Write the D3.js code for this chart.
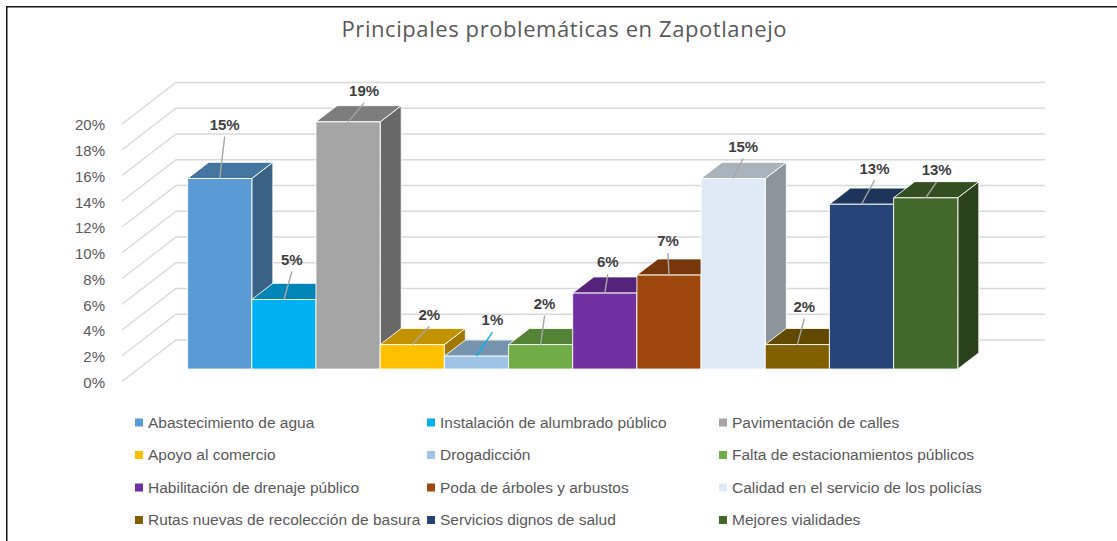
<!DOCTYPE html>
<html>
<head>
<meta charset="utf-8" />
<title>Principales problemáticas en Zapotlanejo</title>
<script src="https://d3js.org/d3.v7.min.js"></script>
<style>
html, body { margin: 0; padding: 0; background: #fff; }
svg { display: block; }
text { font-family: "Liberation Sans", Arial, sans-serif; fill: #595959; }
.tick text { font-size: 15px; }
.label { font-size: 15px; font-weight: bold; fill: #404040; }
.legend text { font-size: 15.5px; }
#title { font-family: "Open Sans", "Liberation Sans", sans-serif; font-size: 22px; }
</style>
</head>
<body>
<script>
// data (percent of answers)
const categories = [
    'Abastecimiento de agua',
    'Instalación de alumbrado público',
    'Pavimentación de calles',
    'Apoyo al comercio',
    'Drogadicción',
    'Falta de estacionamientos públicos',
    'Habilitación de drenaje público',
    'Poda de árboles y arbustos',
    'Calidad en el servicio de los policías',
    'Rutas nuevas de recolección de basura',
    'Servicios dignos de salud',
    'Mejores vialidades'
];
const values = [14.8, 5.4, 19.2, 1.9, 1.0, 1.9, 5.9, 7.3, 14.8, 1.9, 12.8, 13.3];
const yTicks = [0, 2, 4, 6, 8, 10, 12, 14, 16, 18, 20];

const colors = ['#5b9bd5', '#00b0f0', '#a5a5a5', '#ffc000', '#9dc3e6', '#70ad47',
                '#7030a0', '#9e480e', '#deebf7', '#806000', '#264478', '#43682b'];
// label placement (offset from bar top, like excel put them)
const labelNudge = [[5, -54], [8, -40], [16, -31], [17, -30], [16, -36], [4, -41],
                    [3, -31], [-1, -34], [10, -32], [7, -38], [13, -36], [11, -28]];
const oddLeader = 4; // this one's leader line is drawn cyan in the original

const w = 1117, h = 541;
const depthX = 54, depthY = 41.5;
const zFront = 0.3, zBack = 0.69;

const svg = d3.select('body').append('svg').attr('width', w).attr('height', h);

// frame (only top and left edge show)
svg.append('path').attr('d', 'M6.75,' + h + 'V6.75H' + w)
    .attr('fill', 'none').attr('stroke', '#111').attr('stroke-width', 1.5);

svg.append('text').attr('id', 'title')
    .attr('x', 564).attr('y', 37).attr('text-anchor', 'middle')
    .attr('textLength', 445).attr('lengthAdjust', 'spacing')
    .text('Principales problemáticas en Zapotlanejo');

const x = d3.scaleBand().domain(categories).range([122, 991]).paddingInner(0).paddingOuter(0.77);
const y = d3.scaleLinear().domain([0, 20]).range([381.5, 124]);

const px = (xv, z) => xv + z * depthX;
const py = (v, z) => y(v) - z * depthY;

// gridlines: diagonal on the side wall, then flat on the back wall
const x0 = x.range()[0], x1 = x.range()[1];
svg.append('g').attr('stroke', '#d9d9d9').attr('stroke-width', 1.3).attr('fill', 'none')
    .selectAll('path').data(yTicks).enter().append('path')
    .attr('d', d => 'M' + x0 + ',' + py(d, 0) + 'L' + px(x0, 1) + ',' + py(d, 1) + 'H' + px(x1, 1));

svg.append('g').attr('transform', 'translate(108,1)')
    .call(d3.axisLeft(y).tickValues(yTicks).tickSize(0).tickPadding(3).tickFormat(d => d + '%'))
    .call(g => g.select('.domain').remove());

// bars, left to right so each one hides the side of the previous
const ox = (zBack - zFront) * depthX, oy = (zBack - zFront) * depthY;
const bw = x.bandwidth();

svg.append('g').selectAll('g').data(categories).enter().append('g')
    .each(function(c, i) {
        const g = d3.select(this);
        const l = px(x(c), zFront), r = l + bw;
        const yb = py(0, zFront), yt = py(values[i], zFront);
        const base = d3.rgb(colors[i]);
        const shade = k => d3.rgb(base.r * k, base.g * k, base.b * k).formatHex();

        g.append('path')
            .attr('d', `M${r},${yt}L${r + ox},${yt - oy}L${r + ox},${yb - oy}L${r},${yb}Z`)
            .attr('fill', shade(0.63));
        g.append('path')
            .attr('d', `M${l},${yt}L${l + ox},${yt - oy}L${r + ox},${yt - oy}L${r},${yt}Z`)
            .attr('fill', shade(0.76));
        g.append('rect')
            .attr('x', l).attr('y', yt).attr('width', bw).attr('height', yb - yt)
            .attr('fill', colors[i]);
        g.selectAll('path, rect')
            .attr('stroke', '#fff').attr('stroke-width', 1).attr('stroke-opacity', 0.9)
            .attr('stroke-linejoin', 'round');
    });

// data labels with leader lines
const labels = svg.append('g');
categories.forEach((c, i) => {
    const cx = px(x(c), zFront) + bw / 2;
    const ty = py(values[i], zFront);
    const [dx, dy] = labelNudge[i];
    labels.append('line')
        .attr('x1', cx + dx).attr('y1', ty + dy + 12)
        .attr('x2', cx).attr('y2', ty)
        .attr('stroke', i === oddLeader ? '#00b0f0' : '#a6a6a6').attr('stroke-width', 1.4);
    labels.append('text').attr('class', 'label')
        .attr('x', cx + dx).attr('y', ty + dy).attr('dy', '0.35em')
        .attr('text-anchor', 'middle')
        .text(Math.round(values[i]) + '%');
});

// legend, 3 columns
const legend = svg.append('g').attr('class', 'legend');
categories.forEach((c, i) => {
    const lx = 135 + (i % 3) * 292, ly = 422.5 + Math.floor(i / 3) * 32.5;
    legend.append('rect').attr('x', lx).attr('y', ly - 4).attr('width', 8).attr('height', 8)
        .attr('fill', colors[i]);
    legend.append('text').attr('x', lx + 13).attr('y', ly).attr('dy', '0.35em').text(c);
});
</script>
</body>
</html>
